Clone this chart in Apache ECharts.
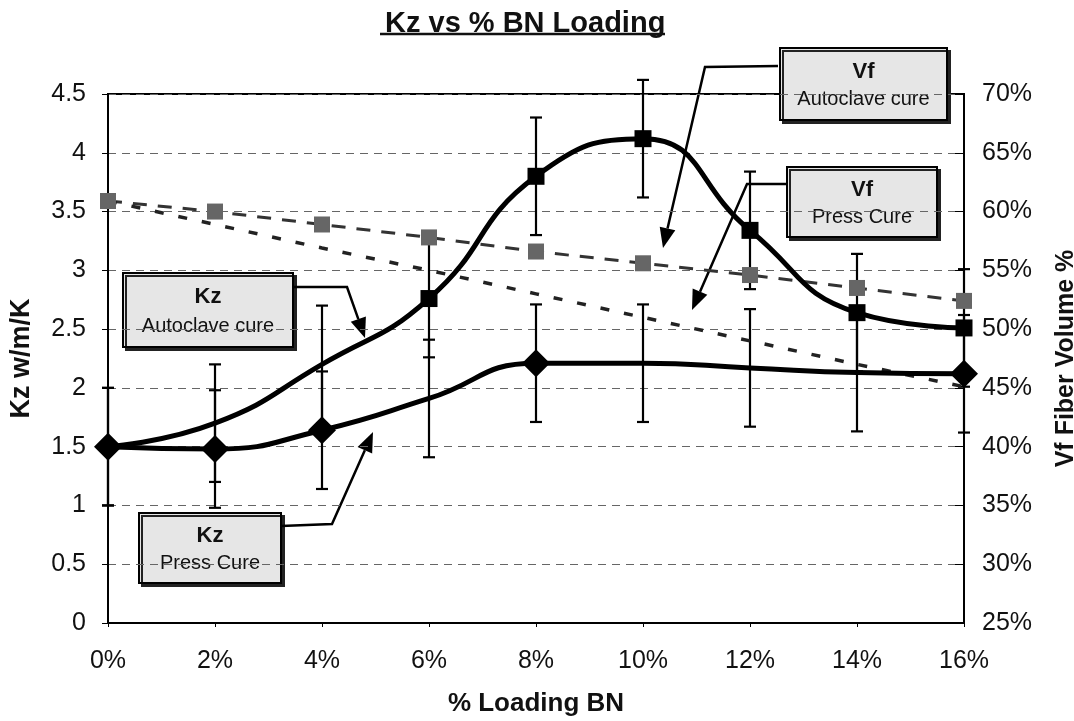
<!DOCTYPE html>
<html>
<head>
<meta charset="utf-8">
<script src="https://cdn.jsdelivr.net/npm/echarts@6/dist/echarts.min.js"></script>
<style>
  html, body { margin: 0; padding: 0; background: #fff; }
  #chart { width: 1074px; height: 721px; }
</style>
</head>
<body>
<div id="chart"></div>
<script>
// x values (% BN loading)
const loading = [0, 2, 4, 6, 8, 10, 12, 14, 16];
// Kz (w/m/K), left axis
const kzAutoclave = [1.5, 1.70, 2.20, 2.76, 3.80, 4.12, 3.34, 2.64, 2.51];
const kzPress = [1.5, 1.48, 1.64, 1.91, 2.21, 2.21, 2.17, 2.13, 2.12];
const kzAutoclaveErr = [0.5, 0.5, 0.5, 0.5, 0.5, 0.5, 0.5, 0.5, 0.5];
const kzPressErr = [0.5, 0.5, 0.5, 0.5, 0.5, 0.5, 0.5, 0.5, 0.5];
// Vf fiber volume (%), right axis
const vfAutoclave = [60.9, 60.0, 58.9, 57.8, 56.6, 55.6, 54.6, 53.5, 52.4];
const vfPress = [60.9, 58.9, 56.9, 55.0, 53.0, 51.0, 49.0, 47.0, 45.1];
// which points show a marker in the original
const autoclaveMarkers = [0, 0, 0, 1, 1, 1, 1, 1, 1];
const pressMarkers = [1, 1, 1, 0, 1, 0, 0, 0, 1];

const FONT = '"Liberation Sans", Arial, sans-serif';

var myChart = echarts.init(document.getElementById('chart'));

// vertical error bars drawn through the axes
function errorSeries(values, errs) {
    return {
        type: 'custom',
        clip: false,
        z: 2,
        silent: true,
        encode: { x: 0, y: [1, 2] },
        data: loading.map((x, i) => [x, values[i] - errs[i], values[i] + errs[i]]),
        renderItem: function (params, api) {
            const lo = api.coord([api.value(0), api.value(1)]);
            const hi = api.coord([api.value(0), api.value(2)]);
            const w = 6;
            const st = { stroke: '#000', lineWidth: 2.2 };
            return {
                type: 'group',
                children: [
                    { type: 'line', shape: { x1: lo[0], y1: lo[1], x2: hi[0], y2: hi[1] }, style: st },
                    { type: 'line', shape: { x1: lo[0] - w, y1: lo[1], x2: lo[0] + w, y2: lo[1] }, style: st },
                    { type: 'line', shape: { x1: hi[0] - w, y1: hi[1], x2: hi[0] + w, y2: hi[1] }, style: st }
                ]
            };
        }
    };
}

function withMarkers(values, flags, symbol, size) {
    return values.map((v, i) => ({
        value: [loading[i], v],
        symbol: flags[i] ? symbol : 'none',
        symbolSize: size
    }));
}

// annotation box with bold heading and a smaller second line
function box(x, y, w, h, head, sub) {
    return {
        type: 'group',
        z: 20,
        children: [
            {
                type: 'rect',
                shape: { x: x, y: y, width: w, height: h },
                style: { fill: '#e6e6e6', stroke: '#000', lineWidth: 2,
                    shadowColor: '#222', shadowOffsetX: 3, shadowOffsetY: 3, shadowBlur: 0 }
            },
            {
                type: 'text',
                style: { x: x + w / 2, y: y + h * 0.33, text: head, align: 'center', verticalAlign: 'middle',
                    font: 'bold 22px ' + FONT, fill: '#111' }
            },
            {
                type: 'text',
                style: { x: x + w / 2, y: y + h * 0.72, text: sub, align: 'center', verticalAlign: 'middle',
                    font: '20px ' + FONT, fill: '#111' }
            }
        ]
    };
}

// bent leader line ending with a filled arrow head
function arrow(points) {
    const tip = points[points.length - 1];
    const from = points[points.length - 2];
    const dx = tip[0] - from[0], dy = tip[1] - from[1];
    const L = Math.sqrt(dx * dx + dy * dy);
    const ux = dx / L, uy = dy / L;
    const len = 20, half = 8;
    const bx = tip[0] - ux * len, by = tip[1] - uy * len;
    const shaft = points.slice(0, -1).concat([[bx, by]]);
    return {
        type: 'group',
        z: 20,
        children: [
            { type: 'polyline', shape: { points: shaft }, style: { stroke: '#000', lineWidth: 2.5, fill: null } },
            {
                type: 'polygon',
                shape: { points: [tip, [bx - uy * half, by + ux * half], [bx + uy * half, by - ux * half]] },
                style: { fill: '#000' }
            }
        ]
    };
}

var option = {
    backgroundColor: '#fff',
    animation: false,
    title: {
        text: 'Kz vs % BN Loading',
        left: 380,
        top: 4,
        textStyle: { fontFamily: FONT, fontSize: 29, fontWeight: 'bold', color: '#111' }
    },
    grid: {
        left: 108, right: 110, top: 94, bottom: 98,
        outerBoundsMode: 'none',
        containLabel: false,
        show: true, borderColor: '#000', borderWidth: 2, backgroundColor: 'transparent'
    },
    xAxis: {
        type: 'value',
        min: 0, max: 16, interval: 2,
        name: '% Loading BN',
        nameLocation: 'middle',
        nameGap: 68,
        nameTextStyle: { fontFamily: FONT, fontSize: 26, fontWeight: 'bold', color: '#111' },
        axisLine: { lineStyle: { color: '#000', width: 2 } },
        axisTick: { show: true, length: 4, lineStyle: { color: '#000' } },
        axisLabel: { formatter: '{value}%', fontFamily: FONT, fontSize: 25, color: '#111', margin: 26 },
        splitLine: { show: false }
    },
    yAxis: [
        {
            type: 'value',
            min: 0, max: 4.5, interval: 0.5,
            name: 'Kz w/m/K',
            nameLocation: 'middle',
            nameRotate: 90,
            nameGap: 73,
            nameTextStyle: { fontFamily: FONT, fontSize: 27, fontWeight: 'bold', color: '#111' },
            axisLine: { show: true, lineStyle: { color: '#000', width: 2 } },
            axisTick: { show: true, length: 6, lineStyle: { color: '#000' } },
            axisLabel: { fontFamily: FONT, fontSize: 25, color: '#111', margin: 22 },
            splitLine: { show: true, lineStyle: { color: '#666', width: 1, type: [8, 6] } }
        },
        {
            type: 'value',
            min: 25, max: 70, interval: 5,
            position: 'right',
            name: 'Vf Fiber Volume %',
            nameLocation: 'middle',
            nameRotate: 90,
            nameGap: 90,
            nameTextStyle: { fontFamily: FONT, fontSize: 25, fontWeight: 'bold', color: '#111' },
            axisLine: { show: true, lineStyle: { color: '#000', width: 2 } },
            axisTick: { show: true, inside: true, length: 9, lineStyle: { color: '#000' } },
            axisLabel: { formatter: '{value}%', fontFamily: FONT, fontSize: 25, color: '#111', margin: 18 },
            splitLine: { show: false }
        }
    ],
    series: [
        errorSeries(kzAutoclave, kzAutoclaveErr),
        errorSeries(kzPress, kzPressErr),
        {
            name: 'Vf Autoclave cure',
            type: 'line',
            yAxisIndex: 1,
            z: 3,
            data: withMarkers(vfAutoclave, [1, 1, 1, 1, 1, 1, 1, 1, 1], 'rect', 16),
            lineStyle: { color: '#333', width: 3, type: [14, 11] },
            itemStyle: { color: '#666' }
        },
        {
            name: 'Vf Press Cure',
            type: 'line',
            yAxisIndex: 1,
            z: 3,
            showSymbol: false,
            data: loading.map((x, i) => [x, vfPress[i]]),
            lineStyle: { color: '#222', width: 3.5, type: [9, 15] }
        },
        {
            name: 'Kz Autoclave cure',
            type: 'line',
            smooth: 0.5,
            z: 4,
            data: withMarkers(kzAutoclave, autoclaveMarkers, 'rect', 17),
            lineStyle: { color: '#000', width: 5 },
            itemStyle: { color: '#000' }
        },
        {
            name: 'Kz Press Cure',
            type: 'line',
            smooth: 0.5,
            z: 4,
            data: withMarkers(kzPress, pressMarkers, 'diamond', 28),
            lineStyle: { color: '#000', width: 5 },
            itemStyle: { color: '#000' }
        }
    ],
    graphic: [
        { type: 'line', z: 20, shape: { x1: 380, y1: 34, x2: 665, y2: 34 }, style: { stroke: '#111', lineWidth: 2.5 } },
        box(780, 48, 167, 72, 'Vf', 'Autoclave cure'),
        arrow([[778, 66], [705, 67], [663, 248]]),
        box(787, 167, 150, 70, 'Vf', 'Press Cure'),
        arrow([[787, 184], [747, 184], [692, 310]]),
        box(123, 273, 170, 74, 'Kz', 'Autoclave cure'),
        arrow([[293, 287], [347, 287], [365, 338]]),
        box(139, 513, 142, 70, 'Kz', 'Press Cure'),
        arrow([[281, 526], [332, 524], [373, 432]])
    ]
};

myChart.setOption(option);
</script>
</body>
</html>
